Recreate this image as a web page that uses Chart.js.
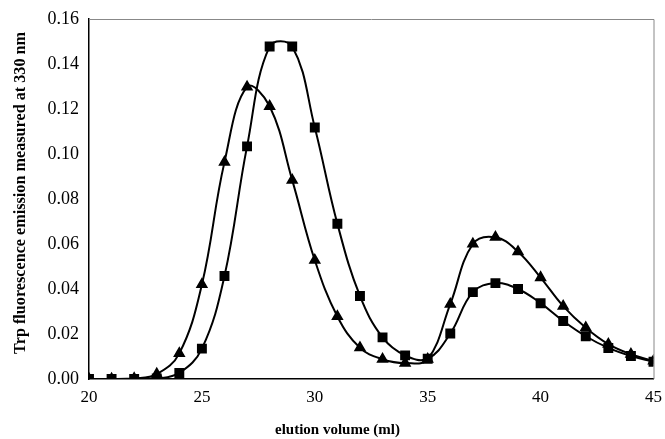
<!DOCTYPE html>
<html><head><meta charset="utf-8">
<script src="https://cdn.jsdelivr.net/npm/chart.js@4"></script>
<style>html,body{margin:0;padding:0;background:#fff}#wrap{width:665px;height:439px}</style>
</head><body><div id="wrap"><canvas id="c" width="665" height="439"></canvas></div>
<script>
const volumes = [20,21,22,23,24,25,26,27,28,29,30,31,32,33,34,35,36,37,38,39,40,41,42,43,44,45];
const squares = [0,0,0,0.0002,0.0027,0.0135,0.0458,0.1034,0.1478,0.1478,0.1118,0.0690,0.0369,0.0185,0.0105,0.0090,0.0202,0.0386,0.0426,0.0400,0.0337,0.0258,0.0190,0.0138,0.0102,0.0077];
const triangles = [0,0,0.0002,0.0022,0.0114,0.0420,0.0964,0.1298,0.1212,0.0884,0.0528,0.0278,0.0139,0.0088,0.0071,0.0088,0.0333,0.0600,0.0630,0.0566,0.0451,0.0324,0.0228,0.0155,0.0110,0.0080];
const xTicks = [20,25,30,35,40,45];
const yTicks = [0,0.02,0.04,0.06,0.08,0.10,0.12,0.14,0.16];
const xTitle = 'elution volume (ml)';
const yTitle = 'Trp fluorescence emission measured at 330 nm';

const frame = {
  id:'frame',
  afterDraw(chart){
    const a = chart.chartArea, ctx = chart.ctx;
    ctx.save();
    ctx.strokeStyle = '#888';
    ctx.lineWidth = 1;
    ctx.beginPath();
    ctx.moveTo(a.left, a.top+0.5); ctx.lineTo(a.right+0.5, a.top+0.5); ctx.lineTo(a.right+0.5, a.bottom);
    ctx.stroke();
    ctx.restore();
  }
};
const sp = n => '\u00a0'.repeat(n);

new Chart(document.getElementById('c'), {
  type:'line',
  data:{
    datasets:[
      {label:'squares', data: volumes.map((v,i)=>({x:v,y:squares[i]})), borderColor:'#000', backgroundColor:'#000', borderWidth:2, pointStyle:'rect', pointRadius:5.6, tension:0.4},
      {label:'triangles', data: volumes.map((v,i)=>({x:v,y:triangles[i]})), borderColor:'#000', backgroundColor:'#000', borderWidth:2, pointStyle:'triangle', pointRadius:5.2, tension:0.4}
    ]
  },
  plugins:[frame],
  options:{
    responsive:false, animation:false,
    layout:{padding:{left:0,right:10,top:19,bottom:0}},
    plugins:{legend:{display:false}, tooltip:{enabled:false}},
    scales:{
      x:{type:'linear', min:20, max:45,
        afterBuildTicks(s){ s.ticks = xTicks.map(v=>({value:v})); },
        afterFit(s){ s.height = 60; },
        grid:{display:false, drawOnChartArea:false, drawTicks:true, tickLength:5, color:'#000'},
        border:{display:true, color:'#000', width:1.5},
        ticks:{color:'#000', font:{family:'Liberation Serif', size:17}, padding:3, maxRotation:0},
        title:{display:true, text:xTitle + sp(18), color:'#000', font:{family:'Liberation Serif', size:15, weight:'bold'}, padding:{top:12,bottom:0}}
      },
      y:{min:0, max:0.16,
        afterBuildTicks(s){ s.ticks = yTicks.map(v=>({value:v})); },
        afterFit(s){ s.width = 89; },
        grid:{display:false, drawOnChartArea:false, drawTicks:true, tickLength:6, color:'#000'},
        border:{display:true, color:'#000', width:1.5},
        ticks:{color:'#000', font:{family:'Liberation Serif', size:18}, padding:4, callback:v=>v.toFixed(2)},
        title:{display:true, text:sp(3) + yTitle, color:'#000', font:{family:'Liberation Serif', size:16.2, weight:'bold'}, padding:{top:11,bottom:4}}
      }
    }
  }
});
</script></body></html>
